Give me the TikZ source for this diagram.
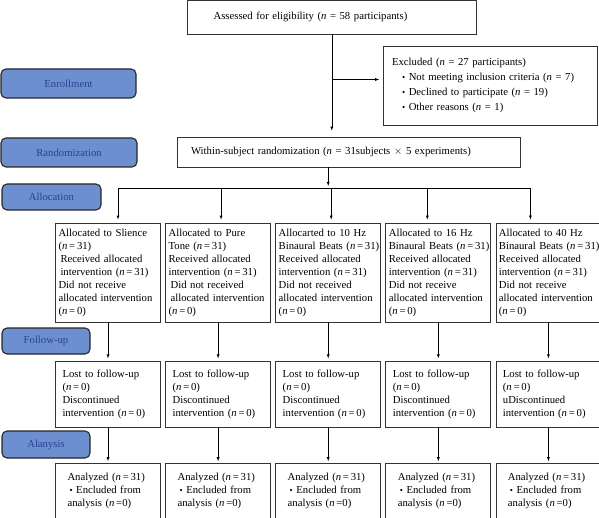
\documentclass[tikz,border=0pt]{standalone}
\usepackage{fontspec}
\setmainfont{Liberation Serif}
\usetikzlibrary{arrows}
\usetikzlibrary{positioning}
\tikzset{>=latex}
\definecolor{stageblue}{RGB}{109,143,207}
\definecolor{stagetext}{RGB}{38,66,148}
\newcommand{\nn}{\textit{n}}
\newcommand{\bul}{\raisebox{0.3pt}{\fontsize{9}{9}\selectfont\textbullet}}
\tikzset{
    stage/.style={draw=black!85, line width=1.1pt, rounded corners=5pt, fill=stageblue,
        text=stagetext, inner sep=0pt},
    flowbox/.style={draw=black!80, line width=0.8pt, align=left, inner ysep=0pt},
    allocbox/.style={flowbox, inner xsep=3pt, text width=99pt, minimum height=99pt},
    followbox/.style={flowbox, inner xsep=7pt, text width=91pt, minimum height=66pt},
    analysisbox/.style={flowbox, inner xsep=12pt, text width=81pt, minimum height=55pt},
}

\begin{document}
\begin{tikzpicture}[x=1pt, y=-1pt, node distance=4.3pt, font=\fontsize{10.7}{13}\selectfont]
        \useasboundingbox (0,0) rectangle (599,518);

        \node [stage, minimum width=135pt, minimum height=29pt] (Enrollment) at (68.5,83.5) {Enrollment};
        \node [stage, minimum width=136pt, minimum height=29pt] (Randomization) at (69,152.5) {Randomization};
        \node [stage, minimum width=99pt, minimum height=26pt] (Allocation) at (51.5,197) {Allocation};
        \node [stage, minimum width=88pt, minimum height=26pt] (FollowUp) at (46,341) {Follow-up};
        \node [stage, minimum width=88pt, minimum height=27pt] (Analysis) at (46,444.5) {Alanysis};

        \node [flowbox, inner xsep=26pt, text width=236.5pt, minimum height=34pt] (Assess) at (331.8,17.1)
            {Assessed for eligibility (\nn{} = 58 participants)};
        \node [flowbox, inner xsep=8.5pt, text width=196.5pt, minimum height=79pt] (Excluded) at (490.3,85.5)
            {Excluded (\nn{} = 27 participants)\\[2pt]
             \hspace*{10pt}\bul\ Not meeting inclusion criteria (\nn{} = 7)\\[2pt]
             \hspace*{10pt}\bul\ Declined to participate (\nn{} = 19)\\[2pt]
             \hspace*{10pt}\bul\ Other reasons (\nn{} = 1)};
        \node [flowbox, inner xsep=14pt, text width=315.5pt, minimum height=30pt] (Random) at (348.8,152)
            {Within-subject randomization (\nn{} = 31subjects $\times$ 5 experiments)};

        \node [allocbox] (Alloc1) at (108,272.5)
            {Allocated to Slience\\ (\nn\,=\,31)\\ \hspace*{2pt}Received allocated\\
             \hspace*{2pt}intervention~(\nn\,=\,31)\\ Did not receive\\ allocated~intervention\\ (\nn\,=\,0)};
        \node [allocbox, right=of Alloc1] (Alloc2)
            {Allocated to Pure\\ Tone (\nn\,=\,31)\\ Received allocated\\ intervention~(\nn\,=\,31)\\
             \hspace*{2pt}Did not received\\ \hspace*{2pt}allocated~intervention\\ (\nn\,=\,0)};
        \node [allocbox, right=of Alloc2] (Alloc3)
            {Allocarted to 10 Hz\\ Binaural~Beats~(\nn\,=\,31)\\ Received allocated\\ intervention~(\nn\,=\,31)\\
             Did not received\\ allocated~intervention\\ (\nn\,=\,0)};
        \node [allocbox, right=of Alloc3] (Alloc4)
            {Allocated to 16 Hz\\ Binaural~Beats~(\nn\,=\,31)\\ Received allocated\\ intervention~(\nn\,=\,31)\\
             Did not receive\\ allocated~intervention\\ (\nn\,=\,0)};
        \node [allocbox, right=of Alloc4] (Alloc5)
            {Allocated to 40 Hz\\ Binaural~Beats~(\nn\,=\,31)\\ Received allocated\\ intervention~(\nn\,=\,31)\\
             Did not receive\\ allocated~intervention\\ (\nn\,=\,0)};

        \node [followbox, below=39pt of Alloc1] (Follow1)
            {Lost to follow-up\\ (\nn\,=\,0)\\ Discontinued\\ intervention~(\nn\,=\,0)};
        \node [followbox, below=39pt of Alloc2] (Follow2)
            {Lost to follow-up\\ (\nn\,=\,0)\\ Discontinued\\ intervention~(\nn\,=\,0)};
        \node [followbox, below=39pt of Alloc3] (Follow3)
            {Lost to follow-up\\ (\nn\,=\,0)\\ Discontinued\\ intervention~(\nn\,=\,0)};
        \node [followbox, below=39pt of Alloc4] (Follow4)
            {Lost to follow-up\\ (\nn\,=\,0)\\ Discontinued\\ intervention~(\nn\,=\,0)};
        \node [followbox, below=39pt of Alloc5] (Follow5)
            {Lost to follow-up\\ (\nn\,=\,0)\\ uDiscontinued\\ intervention~(\nn\,=\,0)};

        \node [analysisbox, below=35pt of Follow1] (Analyzed1)
            {Analyzed (\nn\,=\,31)\\ \hspace*{2pt}\bul\ Encluded from\\ analysis (\nn\,=0)};
        \node [analysisbox, below=35pt of Follow2] (Analyzed2)
            {Analyzed (\nn\,=\,31)\\ \hspace*{2pt}\bul\ Encluded from\\ analysis (\nn\,=0)};
        \node [analysisbox, below=35pt of Follow3] (Analyzed3)
            {Analyzed (\nn\,=\,31)\\ \hspace*{2pt}\bul\ Encluded from\\ analysis (\nn\,=0)};
        \node [analysisbox, below=35pt of Follow4] (Analyzed4)
            {Analyzed (\nn\,=\,31)\\ \hspace*{2pt}\bul\ Encluded from\\ analysis (\nn\,=0)};
        \node [analysisbox, below=35pt of Follow5] (Analyzed5)
            {Analyzed (\nn\,=\,31)\\ \hspace*{2pt}\bul\ Encluded from\\ analysis (\nn\,=0)};

        \coordinate (Bus) at (0,188);

        \draw [->, shorten >=6pt] (Assess.south) -- (Assess.south |- Random.north);
        \draw [->, shorten >=4pt] ([yshift=6pt]Assess.south |- Excluded.west) -- ([yshift=6pt]Excluded.west);

        \draw [->, shorten >=2pt] (Random.south -| Alloc3.north) -- (Bus -| Alloc3.north);
        \draw ([xshift=10pt]Alloc1.north |- Bus) -- ([xshift=-18pt]Alloc5.north |- Bus);

        \draw [->, shorten >=3pt] ([xshift=10pt]Alloc1.north |- Bus) -- ([xshift=10pt]Alloc1.north);
        \draw [->, shorten >=3pt] ([xshift=3pt]Alloc2.north |- Bus) -- ([xshift=3pt]Alloc2.north);
        \draw [->, shorten >=3pt] ([xshift=3pt]Alloc3.north |- Bus) -- ([xshift=3pt]Alloc3.north);
        \draw [->, shorten >=3pt] ([xshift=-11pt]Alloc4.north |- Bus) -- ([xshift=-11pt]Alloc4.north);
        \draw [->, shorten >=3pt] ([xshift=-18pt]Alloc5.north |- Bus) -- ([xshift=-18pt]Alloc5.north);

        \draw [->, shorten >=3pt] (Alloc1.south) -- (Follow1.north);
        \draw [->, shorten >=3pt] (Alloc2.south) -- (Follow2.north);
        \draw [->, shorten >=3pt] (Alloc3.south) -- (Follow3.north);
        \draw [->, shorten >=3pt] (Alloc4.south) -- (Follow4.north);
        \draw [->, shorten >=3pt] (Alloc5.south) -- (Follow5.north);

        \draw [->, shorten >=2pt] (Follow1.south) -- (Analyzed1.north);
        \draw [->, shorten >=2pt] (Follow2.south) -- (Analyzed2.north);
        \draw [->, shorten >=2pt] (Follow3.south) -- (Analyzed3.north);
        \draw [->, shorten >=2pt] (Follow4.south) -- (Analyzed4.north);
        \draw [->, shorten >=2pt] (Follow5.south) -- (Analyzed5.north);
\end{tikzpicture}
\end{document}
